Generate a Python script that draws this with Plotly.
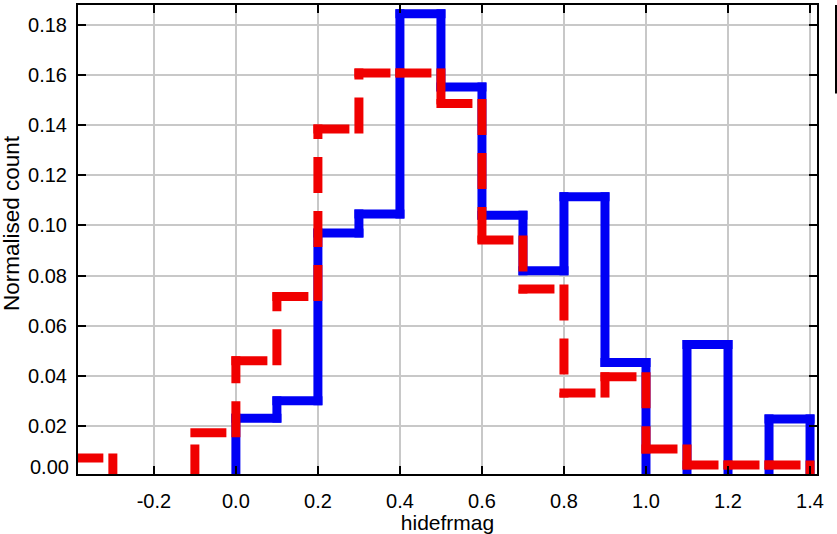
import plotly.graph_objects as go

# ---- data ----
blue_edges = [0.0, 0.1, 0.2, 0.3, 0.4, 0.5, 0.6, 0.7, 0.8, 0.9, 1.0, 1.1, 1.2, 1.3, 1.4]
blue_values = [0.0231, 0.0300, 0.0970, 0.1046, 0.1845, 0.1553, 0.1041, 0.0819,
               0.1115, 0.0453, 0.0, 0.0525, 0.0, 0.0228]

red_edges = [-0.4, -0.3, -0.2, -0.1, 0.0, 0.1, 0.2, 0.3, 0.4, 0.5, 0.6, 0.7, 0.8,
             0.9, 1.0, 1.1, 1.2, 1.3, 1.4]
red_values = [0.0072, 0.0, 0.0, 0.0173, 0.0460, 0.0716, 0.1385, 0.1609, 0.1609,
              0.1487, 0.0942, 0.0746, 0.0331, 0.0396, 0.0108, 0.0044, 0.0044, 0.0044]

x_tick_vals = [-0.2, 0.0, 0.2, 0.4, 0.6, 0.8, 1.0, 1.2, 1.4]
x_tick_text = ["-0.2", "0.0", "0.2", "0.4", "0.6", "0.8", "1.0", "1.2", "1.4"]
y_tick_vals = [0.02, 0.04, 0.06, 0.08, 0.10, 0.12, 0.14, 0.16, 0.18]
y_tick_text = ["0.02", "0.04", "0.06", "0.08", "0.10", "0.12", "0.14", "0.16", "0.18"]

# ---- layout geometry ----
W, H = 837, 534
M_L, M_R, M_T, M_B = 78, 20, 3, 60
X_RANGE = [-0.385, 1.417]
Y_RANGE = [0.0008, 0.188]
PW, PH = W - M_L - M_R, H - M_T - M_B
px_x = (X_RANGE[1] - X_RANGE[0]) / PW
px_y = (Y_RANGE[1] - Y_RANGE[0]) / PH
LINE_W = 9
FONT = "Liberation Sans, Arial, Helvetica, sans-serif"


def step_segments(edges, values, half_w):
    """Histogram outline as separate segments (square-capped look)."""
    ex, ey = half_w * px_x, half_w * px_y
    xs, ys = [], []
    prev = 0.0
    n = len(values)
    for i in range(n + 1):
        x = edges[i]
        cur = values[i] if i < n else 0.0
        if not (prev == 0 and cur == 0):
            d = 1 if cur >= prev else -1
            xs += [x, x, None]
            ys += [prev - d * ey, cur + d * ey, None]
        if i < n and cur > 0:
            xs += [edges[i] - ex, edges[i + 1] + ex, None]
            ys += [cur, cur, None]
        prev = cur
    return xs, ys


bx, by = step_segments(blue_edges, blue_values, LINE_W / 2)
rx, ry = step_segments(red_edges, red_values, LINE_W / 2)

fig = go.Figure()
fig.add_trace(go.Scatter(x=bx, y=by, mode="lines", connectgaps=False,
                         line=dict(color="#0000f5", width=LINE_W),
                         hoverinfo="skip", showlegend=False))
fig.add_trace(go.Scatter(x=rx, y=ry, mode="lines", connectgaps=False,
                         line=dict(color="#f00000", width=LINE_W, dash="36px,18px"),
                         hoverinfo="skip", showlegend=False))

axis_common = dict(
    showgrid=True, gridcolor="#c8c8c8", gridwidth=1.5,
    showline=True, linecolor="black", linewidth=2, mirror="ticks",
    ticks="inside", ticklen=8, tickwidth=2, tickcolor="black",
    zeroline=False, tickfont=dict(family=FONT, size=20, color="black"),
)

fig.update_layout(
    width=W, height=H,
    margin=dict(l=M_L, r=M_R, t=M_T, b=M_B, pad=0),
    paper_bgcolor="white", plot_bgcolor="white",
    showlegend=False,
    xaxis=dict(range=X_RANGE, tickmode="array", tickvals=x_tick_vals,
               ticktext=x_tick_text, ticklabelstandoff=8,
               title=dict(text="hidefrmag", font=dict(family=FONT, size=21, color="black"),
                          standoff=2),
               **axis_common),
    yaxis=dict(range=Y_RANGE, tickmode="array", tickvals=y_tick_vals,
               ticktext=y_tick_text, ticklabelstandoff=5,
               **axis_common),
    annotations=[
        dict(text="0.00", xref="paper", yref="paper", x=0, y=(7 / PH),
             xanchor="right", yanchor="middle", xshift=-7, showarrow=False,
             font=dict(family=FONT, size=20, color="black")),
        dict(text="Normalised count", xref="paper", yref="paper",
             x=(11 - M_L) / PW, y=(H - M_B - 222) / PH, textangle=-90,
             xanchor="center", yanchor="middle", showarrow=False,
             font=dict(family=FONT, size=22.5, color="black")),
    ],
    shapes=[
        dict(type="line", xref="paper", yref="paper",
             x0=(836 - M_L) / PW, x1=(836 - M_L) / PW, y0=1.0, y1=(H - M_B - 92) / PH,
             line=dict(color="black", width=2)),
    ],
)

fig.write_html("out.html")
